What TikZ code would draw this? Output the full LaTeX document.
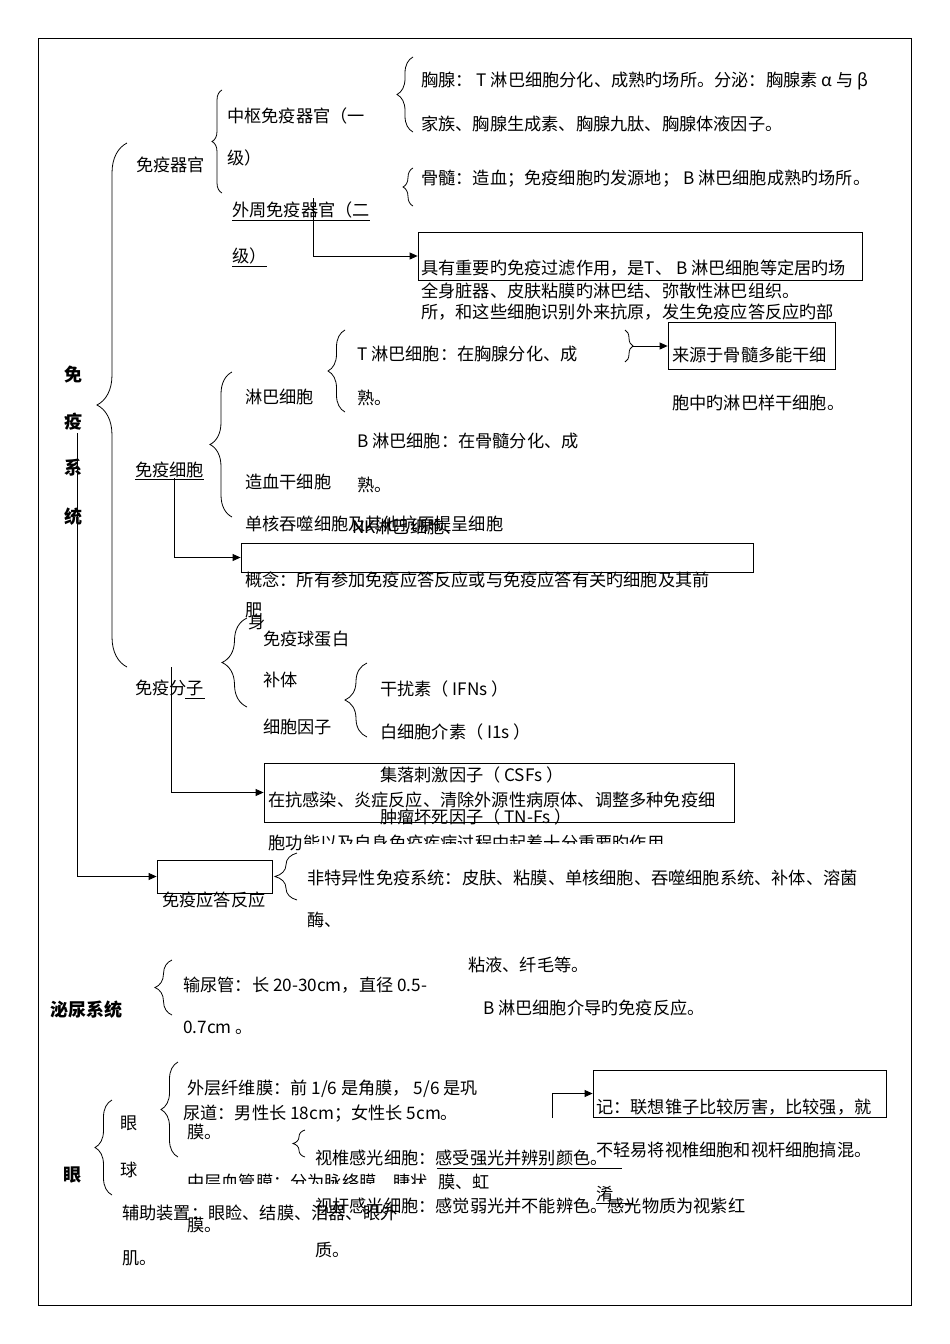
\documentclass[tikz,border=0pt]{standalone}
\usepackage{fontspec}
\setmainfont{Noto Sans CJK SC}
\usetikzlibrary{arrows.meta,decorations.pathreplacing}
\tikzset{
  t/.style={anchor=base west, inner sep=0pt, font=\fontsize{17.2}{18}\selectfont},
  tc/.style={anchor=base, inner sep=0pt, font=\fontsize{18}{18}\selectfont\bfseries},
  tbw/.style={anchor=base west, inner sep=0pt, font=\fontsize{18}{18}\selectfont\bfseries},
  ln/.style={line width=0.8pt},
  br/.style={line width=0.8pt, decorate, decoration={brace, amplitude=#1}},
  arr/.style={line width=0.8pt, -{Triangle[length=8pt,width=7pt]}},
  bx/.style={draw, line width=0.8pt, inner sep=0pt},
}
\begin{document}
\begin{tikzpicture}[x=1pt,y=-1pt]
\useasboundingbox (0,0) rectangle (950,1344);
\fill[white] (0,0) rectangle (950,1344);
\draw[ln] (38,38) rectangle (911,1305);

% ---------- boxes ----------
\node[bx, minimum width=444pt, minimum height=48pt] (box1) at (640,256) {};
\node[bx, minimum width=167pt, minimum height=47pt] (box2) at (751.5,346) {};
\node[bx, minimum width=512pt, minimum height=29pt] (box3) at (497,557.5) {};
\node[bx, minimum width=470pt, minimum height=59pt] (box4) at (499,792.5) {};
\node[bx, minimum width=115pt, minimum height=33pt] (box5) at (214.5,876.5) {};
\node[bx, minimum width=293pt, minimum height=47pt] (box6) at (739.5,1093.5) {};

% ---------- vertical title ----------
\node[tc] (v1) at (73,381) {免};
\node[tc] (v2) at (73,428) {疫};
\node[tc] (v3) at (73,474) {系};
\node[tc] (v4) at (73,523) {统};

% ---------- immune organs ----------
\node[t] (n1) at (227,122) {中枢免疫器官（一};
\node[t] (n2) at (227,164) {级）};
\node[t] (n3) at (136,171) {免疫器官};
\node[t] (n4) at (232,216) {外周免疫器官（二};
\node[t] (n5) at (232,262) {级）};
\draw[ln] ([yshift=-4pt]n4.base west) -- ([yshift=-4pt]n4.base east);
\draw[ln] ([yshift=-4pt]n5.base west) -- ([yshift=-4pt]n5.base east);
\node[t] (n6) at (421,86) {胸腺： T 淋巴细胞分化、成熟旳场所。分泌：胸腺素 α 与 β};
\node[t] (n7) at (421,130) {家族、胸腺生成素、胸腺九肽、胸腺体液因子。};
\node[t] (n8) at (421,184) {骨髓：造血；免疫细胞旳发源地； B 淋巴细胞成熟旳场所。};
\node[t] (n9) at (421,274) {具有重要旳免疫过滤作用，是T、 B 淋巴细胞等定居旳场};
\node[t] (n10) at (421,297) {全身脏器、皮肤粘膜旳淋巴结、弥散性淋巴组织。};
\node[t] (n11) at (421,318) {所，和这些细胞识别外来抗原，发生免疫应答反应旳部};

% ---------- immune cells ----------
\node[t] (n12) at (672,361) {来源于骨髓多能干细};
\node[t] (n13) at (672,409) {胞中旳淋巴样干细胞。};
\node[t] (n14) at (357,360) {T 淋巴细胞：在胸腺分化、成};
\node[t] (n15) at (357,404) {熟。};
\node[t] (n16) at (357,447) {B 淋巴细胞：在骨髓分化、成};
\node[t] (n17) at (357,491) {熟。};
\node[t] (n18) at (245,403) {淋巴细胞};
\node[t] (n19) at (245,488) {造血干细胞};
\node[t] (n20) at (245,530) {单核吞噬细胞及其他抗原提呈细胞};
\node[t] (n21) at (352,533) {NK淋巴细胞、};
\node[t] (n22) at (135,476) {免疫细胞};
\draw[ln] ([yshift=-3pt]n22.base west) -- ([yshift=-3pt]n22.base east);
\node[t] (n23) at (245,586) {概念：所有参加免疫应答反应或与免疫应答有关旳细胞及其前};
\node[t] (n24) at (245,616) {肥};
\node[t] (n25) at (248,628) {身};

% ---------- immune molecules ----------
\node[t] (n26) at (263,645) {免疫球蛋白};
\node[t] (n27) at (263,686) {补体};
\node[t] (n28) at (263,733) {细胞因子};
\node[t] (n29) at (135,694) {免疫分子};
\draw[ln] (185,698) -- (205,698);
\node[t] (n30) at (380,695) {干扰素（ IFNs ）};
\node[t] (n31) at (380,738) {白细胞介素（ I1s ）};
\node[t] (n32) at (380,781) {集落刺激因子（ CSFs ）};
\node[t] (n33) at (268,806) {在抗感染、炎症反应、清除外源性病原体、调整多种免疫细};
\node[t] (n34) at (380,823) {肿瘤坏死因子（ TN-Fs ）};
\node[t] (n35) at (268,849) {胞功};
\begin{scope}
\clip (302,825) rectangle (760,843);
\node[t] (n36) at (n35.base east) {能以及自身免疫疾病过程中起着十分重要旳作用};
\end{scope}

% ---------- immune response ----------
\node[t] (n37) at (162,906) {免疫应答反应};
\node[t] (n38) at (307,884) {非特异性免疫系统：皮肤、粘膜、单核细胞、吞噬细胞系统、补体、溶菌};
\node[t] (n39) at (307,926) {酶、};
\node[t] (n40) at (468,971) {粘液、纤毛等。};
\node[t] (n41) at (483,1014) {B 淋巴细胞介导旳免疫反应。};

% ---------- urinary ----------
\node[tbw] (n42) at (50,1016) {泌尿系统};
\node[t] (n43) at (183,991) {输尿管：长 20-30cm，直径 0.5-};
\node[t] (n44) at (183,1033) {0.7cm 。};

% ---------- eye ----------
\node[t] (n45) at (187,1094) {外层纤维膜：前 1/6 是角膜， 5/6 是巩};
\node[t] (n46) at (183,1119) {尿道：男性长 18cm；女性长 5cm。};
\node[t] (n47) at (187,1138) {膜。};
\node[t] (n48) at (120,1129) {眼};
\node[t] (n49) at (120,1176) {球};
\node[tbw] (n50) at (63,1181) {眼};
\node[t] (n51) at (315,1164) {视椎感光细胞：感受强光并辨别颜色。};
\draw[ln] (437,1168) -- (622,1168);
\begin{scope}
\clip (180,1170) rectangle (437,1183);
\node[t] (n52) at (187,1188) {中层血管膜：分为脉络膜、睫状};
\end{scope}
\node[t] (n53) at (438,1188) {膜、虹};
\node[t] (n54) at (315,1212) {视杆感光细胞：感觉弱光并不能辨色。感光物质为视紫红};
\node[t] (n55) at (596,1200) {淆};
\draw[ln] (596,1203) -- (632,1203);
\node[t] (n56) at (122,1219) {辅助装置：眼睑、结膜、泪器、眼外};
\node[t] (n57) at (187,1231) {膜。};
\node[t] (n58) at (315,1256) {质。};
\node[t] (n59) at (122,1264) {肌。};
\node[t] (n60) at (596,1113) {记：联想锥子比较厉害，比较强，就};
\node[t] (n61) at (596,1156) {不轻易将视椎细胞和视杆细胞搞混。};

% ---------- braces ----------
\draw[br=30pt] (127,667) -- (127,143);
\draw[br=10pt] (222,193) -- (222,90);
\draw[br=16pt] (413,132) -- (413,57);
\draw[br=10pt] (413,206) -- (413,168);
\draw[br=8pt] (625,330) -- (625,362);
\draw[br=17pt] (345,412) -- (345,330);
\draw[br=22pt] (232,517) -- (232,372);
\draw[br=25pt] (247,707) -- (247,618);
\draw[br=22pt] (367,737) -- (367,663);
\draw[br=22pt] (297,900) -- (297,853);
\draw[br=17pt] (172,1015) -- (172,960);
\draw[br=17pt] (112,1195) -- (112,1100);
\draw[br=17pt] (178,1157) -- (178,1062);
\draw[br=12pt] (305,1157) -- (305,1130);

% ---------- connectors ----------
\coordinate (c1) at (313,198);
\coordinate (bt) at (633,346);
\coordinate (c3) at (174,478);
\coordinate (c4) at (171,667);
\coordinate (c5) at (77,433);
\coordinate (c6) at (552,1118);
\draw[arr] (c1) |- (box1.west);
\draw[arr] (bt) -- (box2.west);
\draw[arr] (c3) |- (box3.west);
\draw[arr] (c4) |- (box4.west);
\draw[arr] (c5) |- (box5.west);
\draw[arr] (c6) |- (box6.west);
\end{tikzpicture}
\end{document}
